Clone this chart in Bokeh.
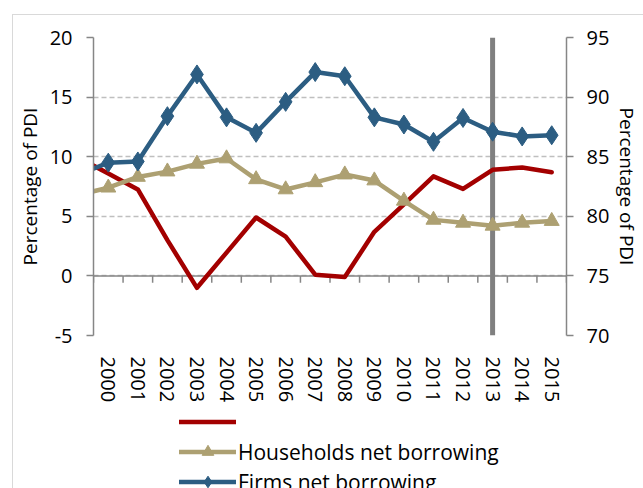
from bokeh.plotting import figure
from bokeh.layouts import column
from bokeh.models import Range1d, LinearAxis, FixedTicker, Span, Legend, LegendItem
from bokeh.embed import file_html
from bokeh.resources import INLINE

# ---- data (1999 value only feeds the lead-in segment at the left edge) ----
years = [1999, 2000, 2001, 2002, 2003, 2004, 2005, 2006, 2007, 2008,
         2009, 2010, 2011, 2012, 2013, 2014, 2015]
year_labels = years[1:]
red_series = [9.9, 8.6, 7.25, 3.0, -1.0, 1.95, 4.9, 3.3, 0.1, -0.1,
              3.7, 6.0, 8.35, 7.3, 8.9, 9.1, 8.7]
households = [6.8, 7.4, 8.3, 8.75, 9.4, 9.85, 8.1, 7.25, 7.85, 8.5,
              8.0, 6.3, 4.7, 4.45, 4.2, 4.45, 4.6]
firms = [83.5, 84.5, 84.6, 88.4, 91.9, 88.3, 87.0, 89.6, 92.1, 91.75,
         88.3, 87.7, 86.25, 88.25, 87.1, 86.7, 86.8]
left_ticks = [-5, 0, 5, 10, 15, 20]
right_ticks = [70, 75, 80, 85, 90, 95]
marker_year = 2013
label_households = "Households net borrowing"
label_firms = "Firms net borrowing"
axis_title = "Percentage of PDI"

FONT = "Open Sans"
RED = "#A30000"
TAN = "#ADA072"
BLUE = "#2C5D82"
AXIS = "#868686"

p = figure(width=630, height=390,
           x_range=Range1d(year_labels[0] - 0.5, year_labels[-1] + 0.5),
           y_range=Range1d(left_ticks[0], left_ticks[-1]),
           output_backend="svg", toolbar_location=None,
           min_border_left=80, min_border_right=73,
           min_border_top=22, min_border_bottom=68)
p.extra_y_ranges = {"right": Range1d(right_ticks[0], right_ticks[-1])}
p.outline_line_color = None
p.background_fill_color = "white"
p.border_fill_color = "white"

# grid
p.xgrid.visible = False
p.ygrid.ticker = FixedTicker(ticks=left_ticks)
p.ygrid.grid_line_color = "#BFBFBF"
p.ygrid.grid_line_dash = "5 3"
p.ygrid.grid_line_width = 1.3

# x axis (labels only)
xa = p.xaxis[0]
xa.ticker = FixedTicker(ticks=year_labels)
xa.major_label_orientation = "vertical"
xa.axis_line_color = None
xa.major_tick_line_color = None
xa.minor_tick_line_color = None
xa.major_label_standoff = 15
xa.major_label_text_font = FONT
xa.major_label_text_font_size = "20px"
xa.major_label_text_color = "#000000"

# left axis
ya = p.yaxis[0]
ya.ticker = FixedTicker(ticks=left_ticks)
ya.major_label_overrides = {t: str(t) for t in left_ticks}
ya.axis_line_color = AXIS
ya.axis_line_width = 1.5
ya.major_tick_line_color = AXIS
ya.major_tick_line_width = 1.5
ya.major_tick_out = 7
ya.major_tick_in = 0
ya.minor_tick_line_color = None
ya.major_label_standoff = 14
ya.major_label_text_font = FONT
ya.major_label_text_font_size = "20px"
ya.major_label_text_color = "#000000"
ya.axis_label = axis_title
ya.axis_label_text_font = FONT
ya.axis_label_text_font_size = "19px"
ya.axis_label_text_font_style = "normal"
ya.axis_label_text_color = "#000000"
ya.axis_label_standoff = 4

# right axis
ra = LinearAxis(y_range_name="right", ticker=FixedTicker(ticks=right_ticks))
ra.axis_line_color = AXIS
ra.axis_line_width = 1.5
ra.major_tick_line_color = AXIS
ra.major_tick_line_width = 1.5
ra.major_tick_out = 7
ra.major_tick_in = 0
ra.minor_tick_line_color = None
ra.major_label_standoff = 13
ra.major_label_text_font = FONT
ra.major_label_text_font_size = "20px"
ra.major_label_text_color = "#000000"
ra.axis_label = axis_title
ra.axis_label_text_font = FONT
ra.axis_label_text_font_size = "19px"
ra.axis_label_text_font_style = "normal"
ra.axis_label_text_color = "#000000"
ra.axis_label_standoff = 2
p.add_layout(ra, "right")

# horizontal axis line at zero with category-boundary ticks
zero_line = Span(location=0, dimension="width", line_color=AXIS, line_width=1.5, level="underlay")
p.add_layout(zero_line)
bounds = [y - 0.5 for y in year_labels] + [year_labels[-1] + 0.5]
tick_len = 7 * (left_ticks[-1] - left_ticks[0]) / 300.0
p.segment(x0=bounds, x1=bounds, y0=[0] * len(bounds), y1=[-tick_len] * len(bounds),
          line_color=AXIS, line_width=1.5)

# vertical marker bar
bar = Span(location=marker_year, dimension="height", line_color="#808080", line_width=5, level="underlay")
p.add_layout(bar)

# series
line_kw = dict(line_width=4.5, line_join="round", line_cap="round")
r_red = p.line(years, red_series, line_color=RED, **line_kw)
r_tan = p.line(years, households, line_color=TAN, **line_kw)
m_tan = p.scatter(years, households, marker="triangle", size=15, fill_color=TAN, line_color=TAN)
r_blue = p.line(years, firms, line_color=BLUE, y_range_name="right", **line_kw)
m_blue = p.scatter(years, firms, marker="diamond", size=19, fill_color=BLUE, line_color=BLUE,
                   y_range_name="right")

# ---- legend strip below the chart (series drawn out of view; only the legend shows) ----
p2 = figure(width=630, height=83, output_backend="svg", toolbar_location=None,
            x_range=Range1d(0, 1), y_range=Range1d(0, 1),
            min_border=0, x_axis_location=None, y_axis_location=None)
p2.outline_line_color = None
p2.xgrid.visible = False
p2.ygrid.visible = False
lg_red = p2.line(years, red_series, line_color=RED, **line_kw)
lg_tan = p2.line(years, households, line_color=TAN, **line_kw)
lg_tan_m = p2.scatter(years, households, marker="triangle", size=15, fill_color=TAN, line_color=TAN)
lg_blue = p2.line(years, firms, line_color=BLUE, **line_kw)
lg_blue_m = p2.scatter(years, firms, marker="diamond", size=19, fill_color=BLUE, line_color=BLUE)

legend = Legend(items=[
    LegendItem(label=" ", renderers=[lg_red]),
    LegendItem(label=label_households, renderers=[lg_tan, lg_tan_m]),
    LegendItem(label=label_firms, renderers=[lg_blue, lg_blue_m]),
], location=(86, -8))
legend.orientation = "vertical"
legend.padding = 0
legend.margin = 0
legend.spacing = 1
legend.glyph_width = 57
legend.glyph_height = 29
legend.label_height = 29
legend.label_standoff = 2
legend.label_text_font = FONT
legend.label_text_font_size = "21px"
legend.label_text_color = "#000000"
legend.border_line_color = None
legend.background_fill_alpha = 0
p2.add_layout(legend, "center")

layout = column(p, p2, spacing=0,
                styles={"margin-left": "12px", "margin-top": "14px",
                        "border-left": "1px solid #D9D9D9", "border-top": "1px solid #D9D9D9"})

open("out.html", "w").write(file_html(layout, INLINE))
